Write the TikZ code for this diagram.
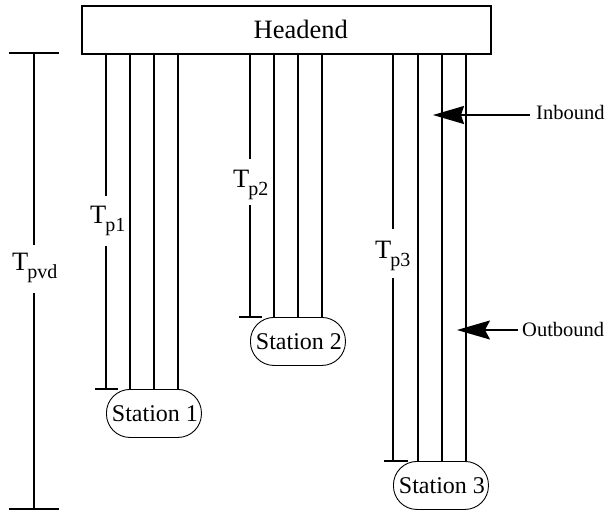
\documentclass[tikz,border=0pt]{standalone}
\usepackage{fontspec}
\setmainfont{Liberation Serif}
\usetikzlibrary{arrows.meta}
\newcommand\tlabel[1]{T\kern-1pt\raisebox{-8pt}{\fontsize{20}{20}\selectfont #1}}
\begin{document}
\begin{tikzpicture}[x=1pt,y=-1pt,
  wire/.style={line width=1.6pt},
  headbox/.style={draw, line width=1.6pt, minimum width=409pt, minimum height=48pt, inner sep=0pt, anchor=north west, font=\fontsize{26.5}{28}\selectfont},
  stationbox/.style={draw, line width=0.9pt, rounded corners=23.5pt, minimum width=95pt, minimum height=48pt, inner sep=0pt, anchor=north west, font=\fontsize{24}{26}\selectfont},
  tlab/.style={inner sep=0pt, anchor=base west, font=\fontsize{26.5}{28}\selectfont},
  sidelab/.style={inner sep=0pt, anchor=base west, font=\fontsize{20.5}{22}\selectfont},
  arrin/.style={wire, -{Stealth[length=31pt,width=18pt,inset=3pt]}},
]
\useasboundingbox (0,0) rectangle (606,511);

% Headend
\node[headbox] (head) at (81,5) {\hspace*{29pt}Headend};

% Stations
\node[stationbox] (st1) at (106,389) {\hspace*{2pt}Station 1};
\node[stationbox] (st2) at (250,317) {\hspace*{2pt}Station 2};
\node[stationbox] (st3) at (393,461) {\hspace*{2pt}Station 3};

% Labels
\node[tlab] (tpvd) at (12,270) {\tlabel{pvd}};
\node[tlab] (tp1) at (90,223) {\tlabel{p1}};
\node[tlab] (tp2) at (233,187) {\tlabel{p2}};
\node[tlab] (tp3) at (375,258) {\tlabel{p3}};
\node[sidelab] (inb) at (536,120) {Inbound};
\node[sidelab] (outb) at (522,336) {Outbound};

% T_pvd measure
\coordinate (pvdTop) at (34,53);
\coordinate (pvdA) at (34,245);
\coordinate (pvdB) at (34,293);
\coordinate (pvdBot) at (34,509);
\draw[wire] ([xshift=-25pt]pvdTop) -- ([xshift=25pt]pvdTop);
\draw[wire] (pvdTop) -- (pvdA);
\draw[wire] (pvdB) -- (pvdBot);
\draw[wire] ([xshift=-25pt]pvdBot) -- ([xshift=25pt]pvdBot);

% Station 1 lines
\coordinate (p1a) at (106,196);
\coordinate (p1b) at (106,246);
\draw[wire] (p1a |- head.south) -- (p1a);
\draw[wire] (p1b) -- (st1.north west);
\draw[wire] ([xshift=-11pt]st1.north west) -- ([xshift=12pt]st1.north west);
\foreach \dx in {24,48,72}
  \draw[wire] ([xshift=\dx pt]st1.north west) -- ([xshift=\dx pt]st1.north west |- head.south);

% Station 2 lines
\coordinate (p2a) at (250,159);
\coordinate (p2b) at (250,205);
\draw[wire] (p2a |- head.south) -- (p2a);
\draw[wire] (p2b) -- (st2.north west);
\draw[wire] ([xshift=-11pt]st2.north west) -- ([xshift=12pt]st2.north west);
\foreach \dx in {24,48,72}
  \draw[wire] ([xshift=\dx pt]st2.north west) -- ([xshift=\dx pt]st2.north west |- head.south);

% Station 3 lines
\coordinate (p3a) at (393,229);
\coordinate (p3b) at (393,278);
\draw[wire] (p3a |- head.south) -- (p3a);
\draw[wire] (p3b) -- (st3.north west);
\draw[wire] ([xshift=-9pt]st3.north west) -- ([xshift=15pt]st3.north west);
\foreach \dx in {25,49,73}
  \draw[wire] ([xshift=\dx pt]st3.north west) -- ([xshift=\dx pt]st3.north west |- head.south);

% Inbound / Outbound arrows
\coordinate (inTip) at (433,115);
\coordinate (outTip) at (457,330);
\draw[arrin] ([xshift=-6pt]inTip -| inb.west) -- (inTip);
\draw[wire, -{Stealth[length=33pt,width=19pt,inset=5pt]}] ([xshift=-4pt]outTip -| outb.west) -- (outTip);
\end{tikzpicture}
\end{document}
